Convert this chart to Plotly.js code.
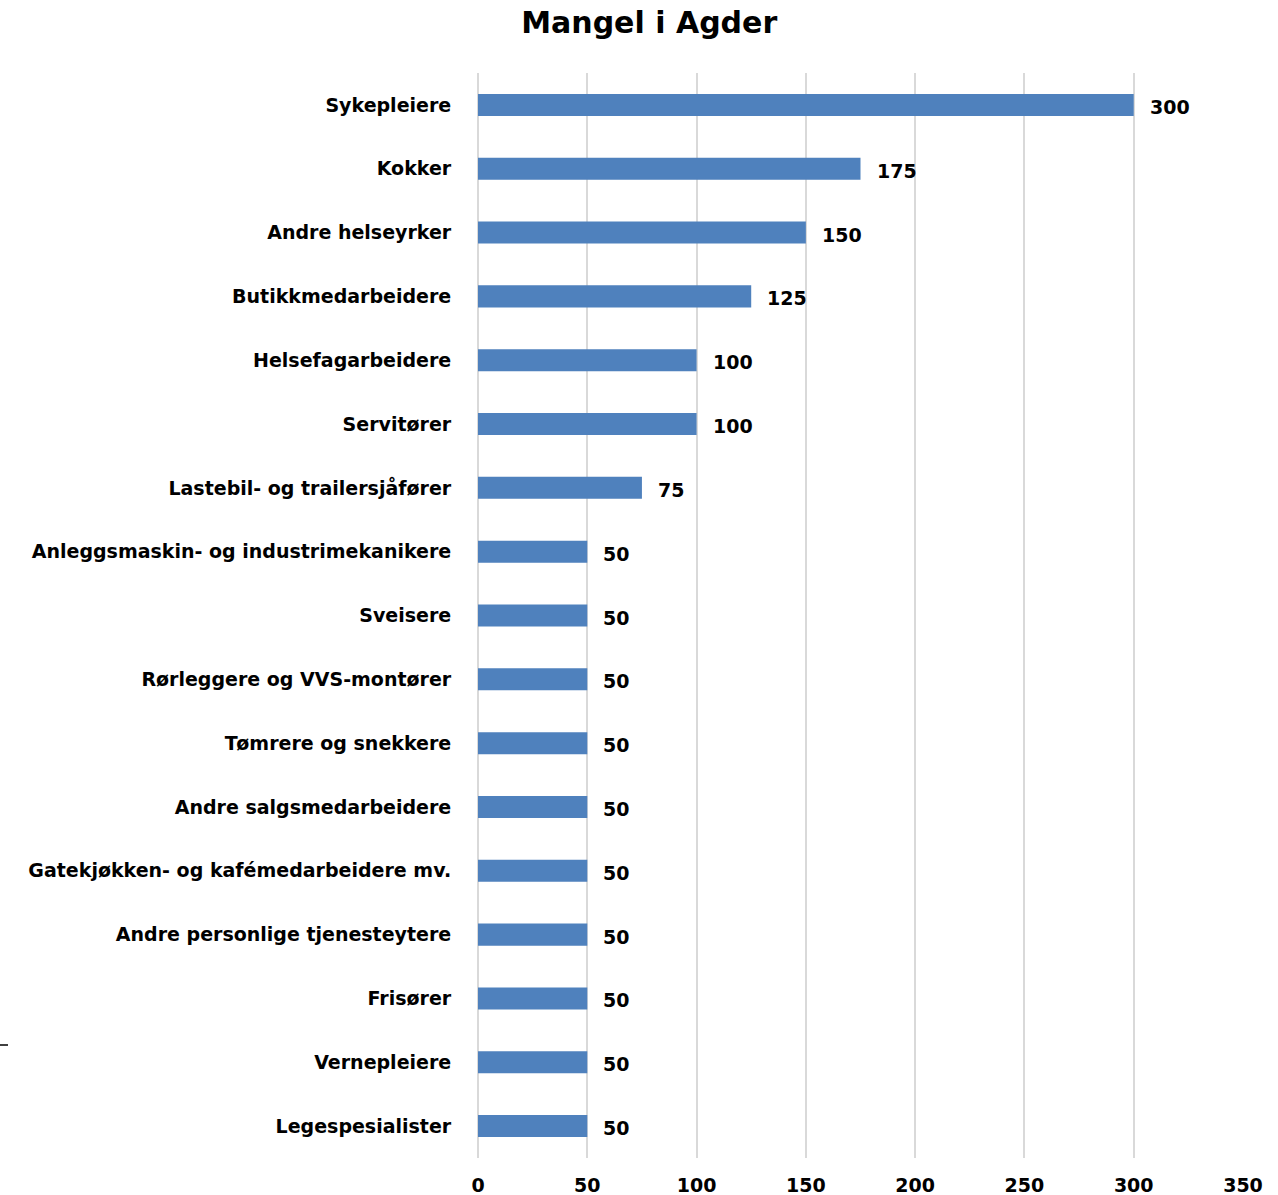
<!DOCTYPE html>
<html>
<head>
<meta charset="utf-8">
<script src="https://cdn.plot.ly/plotly-3.0.1.min.js"></script>
<style>html,body{margin:0;padding:0;background:#fff;}#chart{width:1278px;height:1195px;}</style>
</head>
<body>
<div id="chart"></div>
<script>
const categories = [
  "Sykepleiere",
  "Kokker",
  "Andre helseyrker",
  "Butikkmedarbeidere",
  "Helsefagarbeidere",
  "Servitører",
  "Lastebil- og trailersjåfører",
  "Anleggsmaskin- og industrimekanikere",
  "Sveisere",
  "Rørleggere og VVS-montører",
  "Tømrere og snekkere",
  "Andre salgsmedarbeidere",
  "Gatekjøkken- og kafémedarbeidere mv.",
  "Andre personlige tjenesteytere",
  "Frisører",
  "Vernepleiere",
  "Legespesialister"
];
const values = [300, 175, 150, 125, 100, 100, 75, 50, 50, 50, 50, 50, 50, 50, 50, 50, 50];
const xTicks = [0, 50, 100, 150, 200, 250, 300, 350];

const labelFont = {family: "DejaVu Sans", size: 19, color: "#000"};

const trace = {
  type: "bar",
  orientation: "h",
  y: categories,
  x: values,
  marker: {color: "#4F81BD"},
  width: 0.345,
  hoverinfo: "skip"
};

const annotations = categories.map((c, i) => ({
  x: values[i], y: c, xref: "x", yref: "y",
  text: "<b>" + values[i] + "</b>",
  showarrow: false, xanchor: "left", yanchor: "middle",
  xshift: 14, yshift: -2, font: labelFont
}));

const layout = {
  width: 1278, height: 1195,
  margin: {l: 478, r: 35, t: 73, b: 37},
  paper_bgcolor: "#fff", plot_bgcolor: "#fff",
  title: {text: "<b>Mangel i Agder</b>", x: 0.508, xanchor: "center", y: 0.981, yanchor: "middle",
          font: {family: "DejaVu Sans", size: 30, color: "#000"}},
  showlegend: false,
  xaxis: {
    range: [0, 350], tickvals: xTicks, ticktext: xTicks.map(v => "<b>" + v + "</b>"),
    showgrid: true, gridcolor: "#d9d9d9", gridwidth: 2,
    zeroline: true, zerolinecolor: "#d9d9d9", zerolinewidth: 2,
    showline: false, ticks: "outside", ticklen: 10, tickcolor: "rgba(0,0,0,0)",
    tickfont: labelFont, fixedrange: true
  },
  yaxis: {
    type: "category", autorange: "reversed",
    tickvals: categories, ticktext: categories.map(c => "<b>" + c + "</b>"),
    showgrid: false, zeroline: false, showline: false,
    ticks: "outside", ticklen: 22, tickcolor: "rgba(0,0,0,0)",
    tickfont: labelFont, fixedrange: true
  },
  annotations: annotations,
  shapes: [{
    type: "line", xref: "paper", yref: "paper",
    x0: -478/765, x1: -470/765, y0: (1158-1045)/1085, y1: (1158-1045)/1085,
    line: {color: "#000", width: 1.5}
  }]
};

Plotly.newPlot("chart", [trace], layout, {displayModeBar: false, staticPlot: true});
</script>
</body>
</html>
